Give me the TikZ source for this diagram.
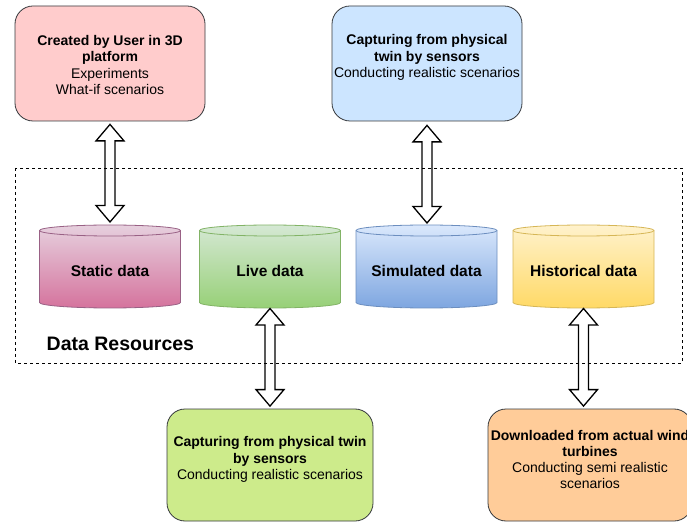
\documentclass[tikz,border=0pt]{standalone}
\usepackage{fontspec}
\setmainfont{Liberation Sans}
\usetikzlibrary{calc}
\definecolor{boxstroke}{HTML}{36393D}
\definecolor{pinkfill}{HTML}{FFCCCC}
\definecolor{bluefill}{HTML}{CCE5FF}
\definecolor{greenfill}{HTML}{CDEB8B}
\definecolor{orangefill}{HTML}{FFCC99}
\definecolor{stTop}{HTML}{E6D0DE}\definecolor{stBot}{HTML}{D5739D}\definecolor{stLine}{HTML}{996185}
\definecolor{lvTop}{HTML}{D5E8D4}\definecolor{lvBot}{HTML}{97D077}\definecolor{lvLine}{HTML}{82B366}
\definecolor{smTop}{HTML}{DAE8FC}\definecolor{smBot}{HTML}{7EA6E0}\definecolor{smLine}{HTML}{6C8EBF}
\definecolor{hsTop}{HTML}{FFF2CC}\definecolor{hsBot}{HTML}{FFD966}\definecolor{hsLine}{HTML}{D6B656}
\tikzset{
  roundbox/.style={draw=boxstroke, line width=0.8pt, rounded corners=18pt, inner sep=0pt},
  boxtext/.style={align=center, font=\fontsize{14}{16.2}\selectfont, inner sep=0pt},
  cyllabel/.style={font=\fontsize{15.5}{17}\selectfont\bfseries, inner sep=0pt},
  blockarrow/.style={draw=black, fill=white, line width=1.3pt, line join=miter},
  frame/.style={draw=black, dashed, dash pattern=on 3pt off 3pt, line width=0.9pt}
}
\newcommand\cylinderdb[6]{%
  \shade[top color=#3, bottom color=#4, draw=#5, line width=0.8pt]
    (#2-70.5,291.5) -- (#2-70.5,219.5)
    arc[start angle=180,end angle=360,x radius=70.5,y radius=5.5]
    -- (#2+70.5,291.5)
    arc[start angle=0,end angle=180,x radius=70.5,y radius=5.5] -- cycle;
  \draw[#5, line width=0.8pt] (#2-70.5,291.5) arc[start angle=180,end angle=360,x radius=70.5,y radius=5.5];
  \node[cyllabel] (#1) at (#2,251) {#6};
  \coordinate (#1-top) at (#2,297);
  \coordinate (#1-bot) at (#2,214);
}
\newcommand\dblarrow[2]{%
  \draw[blockarrow] let \p1=(#1), \p2=(#2) in
    (\x1,\y1) -- (\x1+14pt,\y1-16.5pt) -- (\x1+5pt,\y1-16.5pt) -- (\x1+5pt,\y2+16.5pt)
    -- (\x1+14pt,\y2+16.5pt) -- (\x1,\y2) -- (\x1-14pt,\y2+16.5pt) -- (\x1-5pt,\y2+16.5pt)
    -- (\x1-5pt,\y1-16.5pt) -- (\x1-14pt,\y1-16.5pt) -- cycle;
}
\begin{document}
\begin{tikzpicture}[x=1pt,y=1pt]
\useasboundingbox (0,0) rectangle (687,522);
\fill[white] (0,0) rectangle (687,522);

% top boxes
\node[roundbox, fill=pinkfill, minimum width=190pt, minimum height=115pt] (user) at (110,458.5) {};
\node[boxtext] (usertext) at (110,457) {\textbf{Created by User in 3D}\\\textbf{platform}\\Experiments\\What-if scenarios};
\node[roundbox, fill=bluefill, minimum width=190pt, minimum height=115pt] (sim) at (427,458.5) {};
\node[boxtext] (simtext) at (427,464.5) {\textbf{Capturing from physical}\\\textbf{twin by sensors}\\Conducting realistic scenarios};

% bottom boxes
\node[roundbox, fill=greenfill, minimum width=206pt, minimum height=112pt] (live) at (270,57) {};
\node[boxtext] (livetext) at (270,62.5) {\textbf{Capturing from physical twin}\\\textbf{by sensors}\\Conducting realistic scenarios};
\node[roundbox, fill=orangefill, minimum width=204pt, minimum height=112pt] (hist) at (590,57) {};
\node[boxtext] (histtext) at (590,62.5) {\textbf{Downloaded from actual wind}\\\textbf{turbines}\\Conducting semi realistic\\scenarios};

% cylinders
\cylinderdb{static}{110}{stTop}{stBot}{stLine}{Static data}
\cylinderdb{livedata}{270}{lvTop}{lvBot}{lvLine}{Live data}
\cylinderdb{simdata}{426.5}{smTop}{smBot}{smLine}{Simulated data}
\cylinderdb{histdata}{583.5}{hsTop}{hsBot}{hsLine}{Historical data}

% arrows
\dblarrow{[yshift=-3pt]user.south}{[yshift=3pt]static-top}
\dblarrow{[yshift=-4pt]sim.south}{[yshift=2pt]simdata-top}
\dblarrow{[yshift=-0.5pt]livedata-bot}{[yshift=2.5pt]live.north}
\dblarrow{[yshift=-0.5pt]histdata-bot}{[yshift=2.5pt]hist.north}

% data resources frame
\node[font=\fontsize{19.5}{21}\selectfont\bfseries, anchor=west, inner sep=0pt] (dr) at (46.5,178) {Data Resources};
\draw[frame] (15,354) rectangle (682,159);
\end{tikzpicture}
\end{document}
